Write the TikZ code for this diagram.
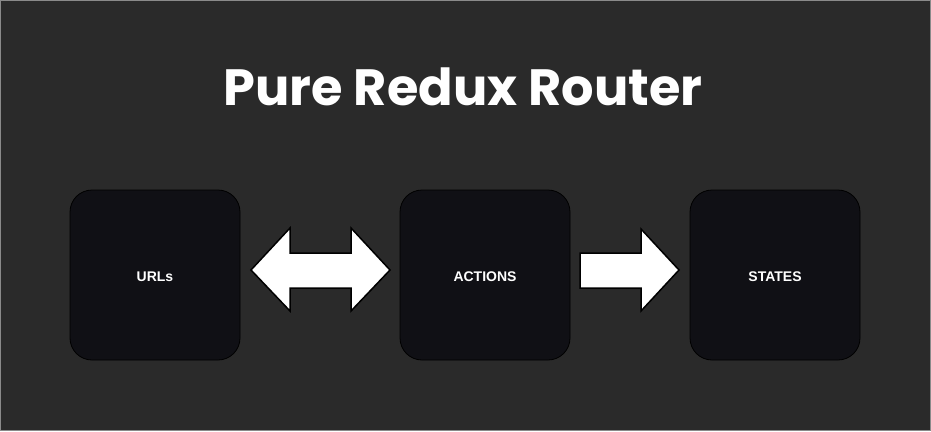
\documentclass[tikz,border=0pt]{standalone}
\usepackage{fontspec}
\setmainfont{Liberation Sans}
\newfontfamily\titlefont{Poppins}
\begin{document}
\begin{tikzpicture}[x=1pt,y=-1pt,
  card/.style={draw=black,line width=0.8pt,fill=cardfill,rounded corners=22pt,minimum width=170pt,minimum height=170pt,inner sep=0pt,text=white,font=\bfseries\fontsize{14}{16}\selectfont},
  blockarrow/.style={draw=black,line width=1.5pt,fill=white,line join=miter}]
\definecolor{bgc}{HTML}{2A2A2A}
\definecolor{cardfill}{HTML}{101015}
\definecolor{framec}{HTML}{8A8A8A}
\useasboundingbox (0,0) rectangle (931,431);
\fill[bgc] (0,0) rectangle (931,431);
\draw[framec,line width=1pt] (0.5,0.5) rectangle (930.5,430.5);
\node[anchor=base,text=white,font=\titlefont\bfseries\fontsize{51}{60}\selectfont] (title) at (463,105) {Pure Redux Router};
\node[card] (urls) at (155,275) {};
\node[card] (actions) at (485,275) {};
\node[card] (states) at (775,275) {};
\node[text=white,font=\bfseries\fontsize{14}{16}\selectfont] (urlsl) at (155,277) {URLs};
\node[text=white,font=\bfseries\fontsize{14}{16}\selectfont] (actionsl) at (485,277) {ACTIONS};
\node[text=white,font=\bfseries\fontsize{14}{16}\selectfont] (statesl) at (775,277) {STATES};
\draw[blockarrow] (251,270) -- (290,228) -- (290,253) -- (351,253) -- (351,228) -- (390,270) -- (351,311) -- (351,288) -- (290,288) -- (290,311) -- cycle;
\draw[blockarrow] (580,253) -- (641,253) -- (641,229) -- (679,270) -- (641,311) -- (641,288) -- (580,288) -- cycle;
\end{tikzpicture}
\end{document}
